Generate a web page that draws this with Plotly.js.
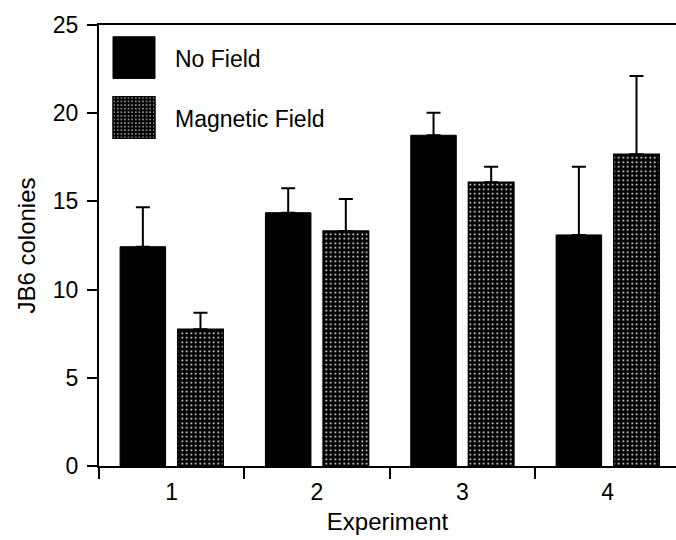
<!DOCTYPE html>
<html>
<head>
<meta charset="utf-8">
<script src="https://cdn.plot.ly/plotly-3.0.1.min.js"></script>
<style>
  html, body { margin: 0; padding: 0; background: #fff; }
  #chart { width: 676px; height: 540px; }
</style>
</head>
<body>
<div id="chart"></div>
<script>
// ---- data ----
const experiments = ['1', '2', '3', '4'];
const noFieldValues = [12.43, 14.36, 18.75, 13.1];
const noFieldErrors = [2.24, 1.38, 1.28, 3.87];
const magneticValues = [7.75, 13.32, 16.08, 17.67];
const magneticErrors = [0.94, 1.82, 0.89, 4.44];
const noLowerError = [0, 0, 0, 0];
const yTickValues = [0, 5, 10, 15, 20, 25];

const FONT = 'Liberation Sans, Arial, Helvetica, sans-serif';

const data = [
  {
    type: 'bar',
    name: 'No Field',
    x: experiments,
    y: noFieldValues,
    legend: 'legend',
    marker: { color: '#000000', line: { color: '#000000', width: 1 } },
    error_y: {
      type: 'data', symmetric: false,
      array: noFieldErrors, arrayminus: noLowerError,
      color: '#000000', thickness: 2, width: 7
    }
  },
  {
    type: 'bar',
    name: 'Magnetic Field',
    x: experiments,
    y: magneticValues,
    legend: 'legend2',
    marker: {
      color: '#000000',
      line: { color: '#000000', width: 1.5 },
      pattern: { shape: '.', bgcolor: '#000000', fgcolor: '#ffffff', size: 4.5, solidity: 0.14, fillmode: 'replace' }
    },
    error_y: {
      type: 'data', symmetric: false,
      array: magneticErrors, arrayminus: noLowerError,
      color: '#000000', thickness: 2, width: 7
    }
  }
];

const legendCommon = {
  xanchor: 'left', yanchor: 'middle',
  bgcolor: 'rgba(0,0,0,0)', borderwidth: 0,
  itemwidth: 72,
  font: { family: FONT, size: 23, color: '#000' }
};

const layout = {
  width: 676, height: 540,
  margin: { l: 99, r: 0, t: 25, b: 74, pad: 0 },
  paper_bgcolor: '#ffffff', plot_bgcolor: '#ffffff',
  font: { family: FONT, size: 23, color: '#000' },
  barmode: 'group',
  bargap: 0.207,
  bargroupgap: 0.21,
  showlegend: true,
  legend: Object.assign({ x: -0.0104, y: 0.926 }, legendCommon),
  legend2: Object.assign({ x: -0.0104, y: 0.790 }, legendCommon),
  xaxis: {
    type: 'category',
    range: [-0.5, 3.47],
    tickson: 'boundaries',
    ticks: 'outside', ticklen: 11, tickwidth: 2, tickcolor: '#000',
    ticklabelstandoff: 4,
    showline: true, linecolor: '#000', linewidth: 2, mirror: true,
    showgrid: false, zeroline: false,
    tickfont: { family: FONT, size: 23, color: '#000' },
    title: { text: 'Experiment', font: { family: FONT, size: 24, color: '#000' }, standoff: 10 }
  },
  yaxis: {
    range: [0, 25],
    tickvals: yTickValues,
    ticks: 'outside', ticklen: 10, tickwidth: 2, tickcolor: '#000',
    ticklabelstandoff: 4,
    showline: true, linecolor: '#000', linewidth: 2,
    showgrid: false, zeroline: false,
    tickfont: { family: FONT, size: 23, color: '#000' },
    title: { text: 'JB6 colonies', font: { family: FONT, size: 24, color: '#000' }, standoff: 10 }
  }
};

Plotly.newPlot('chart', data, layout, { staticPlot: true, displayModeBar: false }).then(function (gd) {
  // enlarge legend swatches to match the reference's large square keys
  gd.querySelectorAll('.legendpoints path').forEach(function (p) {
    p.setAttribute('d', 'M21,21H-21V-21H21Z');
  });
});
</script>
</body>
</html>
